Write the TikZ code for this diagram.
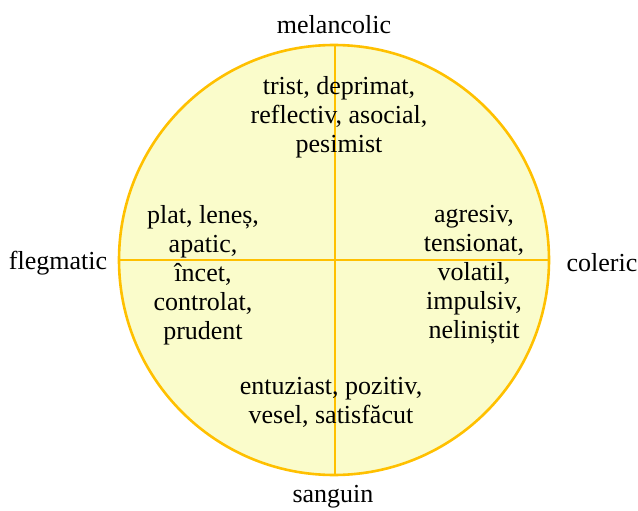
\documentclass[tikz,border=0pt]{standalone}
\usepackage{fontspec}
\setmainfont{Liberation Serif}
\definecolor{discfill}{HTML}{FAFCCB}
\definecolor{discline}{HTML}{FFC000}
\begin{document}
\begin{tikzpicture}[x=1pt,y=-1pt,
  label/.style={font=\fontsize{26}{29}\selectfont, text=black, inner sep=0pt},
  trait/.style={font=\fontsize{26}{29}\selectfont, text=black, align=center, inner sep=0pt},
  axis/.style={draw=discline, line width=2.6pt}]
\useasboundingbox (0,0) rectangle (638,511);
% temperament disc
\coordinate (c) at (334,260);
\draw[fill=discfill, draw=discline, line width=2.6pt] (c) circle[radius=215];
\coordinate (top) at (335,45);
\coordinate (bot) at (335,475);
\coordinate (lft) at (119,260);
\coordinate (rgt) at (549,260);
\draw[axis] (top) -- (bot);
\draw[axis] (lft) -- (rgt);
% temperament names
\node[label] (mel) at (334,25) {melancolic};
\node[label] (fle) at (58,263) {flegmatic};
\node[label] (col) at (602,263) {coleric};
\node[label] (san) at (333,497) {sanguin};
% traits in each quadrant
\node[trait] (tmel) at (339,117) {trist, deprimat,\\reflectiv, asocial,\\pesimist};
\node[trait] (tfle) at (203,275) {plat, leneș,\\apatic,\\încet,\\controlat,\\prudent};
\node[trait] (tcol) at (474,275) {agresiv,\\tensionat,\\volatil,\\impulsiv,\\neliniștit};
\node[trait] (tsan) at (331,402) {entuziast, pozitiv,\\vesel, satisfăcut};
\end{tikzpicture}
\end{document}
